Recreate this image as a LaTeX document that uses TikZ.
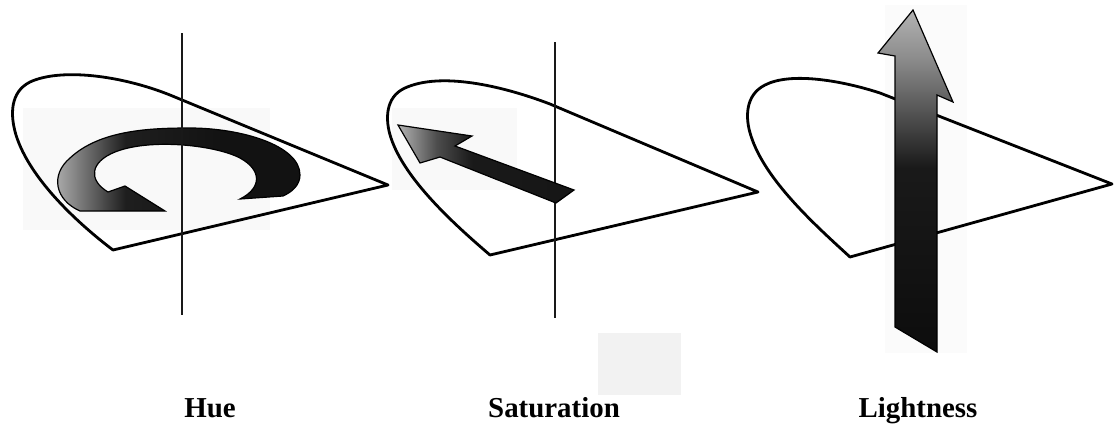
\documentclass[tikz,border=0pt]{standalone}
\usepackage{fontspec}
\setmainfont{Liberation Serif}
\pgfdeclarehorizontalshading{huesh}{100bp}{color(0bp)=(black!28); color(25bp)=(black!28); color(40bp)=(black!88); color(60bp)=(black!93); color(100bp)=(black!93)}
\pgfdeclarehorizontalshading{satsh}{100bp}{color(0bp)=(black!30); color(25bp)=(black!30); color(36bp)=(black!70); color(46bp)=(black!90); color(100bp)=(black!93)}
\pgfdeclareverticalshading{lightsh}{100bp}{color(0bp)=(black!95); color(25bp)=(black!95); color(52bp)=(black!90); color(68bp)=(black!45); color(75bp)=(black!30); color(100bp)=(black!30)}
\begin{document}
\begin{tikzpicture}[x=1bp,y=-1bp,
  outline/.style={line width=2.8bp,line join=round,draw=black},
  axisline/.style={line width=2bp,draw=black!90},
  faint/.style={fill=black!2.5,draw=none},
  arrowbody/.style={draw=black,line width=1.2bp,line join=miter},
  lbl/.style={font=\bfseries\fontsize{29}{34}\selectfont,anchor=base,inner sep=0pt}]
\useasboundingbox (0,0) rectangle (1114,426);
% faint backgrounds
\fill[faint] (23,108) rectangle (270,230);
\fill[faint] (392,108) rectangle (517,190);
\fill[black!1.5] (885,5) rectangle (967,353);
\fill[black!5] (598,333) rectangle (681,395);
% ---------- Hue ----------
\draw[outline] (113,250) -- (388,185) -- (170,95)
  .. controls (120,75) and (60,68) .. (30,82)
  .. controls (10,92) and (10,115) .. (16,135)
  .. controls (30,180) and (80,225) .. (113,250) -- cycle;
\path[arrowbody,shading=huesh]
  (240,199) .. controls (262,188) and (262,170) .. (240,158)
  .. controls (215,145) and (150,138) .. (115,152)
  .. controls (90,162) and (88,180) .. (108,192)
  -- (125,186) -- (165,211) -- (80,211)
  .. controls (55,200) and (50,175) .. (70,158)
  .. controls (100,130) and (150,128) .. (190,128)
  .. controls (240,128) and (300,145) .. (300,175)
  .. controls (300,185) and (292,192) .. (283,196) -- cycle;
\coordinate (h1) at (182,33);
\coordinate (h2) at (182,315);
\draw[axisline] (h1) -- (h2);
\node[lbl] (hue) at (210,417) {Hue};
% ---------- Saturation ----------
\draw[outline] (490,255) -- (758,192) -- (550,104)
  .. controls (500,85) and (440,72) .. (405,88)
  .. controls (385,97) and (385,120) .. (391,138)
  .. controls (405,180) and (455,225) .. (490,255) -- cycle;
\coordinate (s1) at (555,42);
\coordinate (s2) at (555,318);
\draw[axisline] (s1) -- (s2);
\path[arrowbody,shading=satsh]
  (398,125) -- (472,136) -- (455,146) -- (574,190) -- (556,203)
  -- (440,157) -- (420,163) -- cycle;
\node[lbl] (sat) at (554,417) {Saturation};
% ---------- Lightness ----------
\draw[outline] (850,257) -- (1112,184) -- (880,93)
  .. controls (840,80) and (790,72) .. (765,85)
  .. controls (745,95) and (745,118) .. (751,136)
  .. controls (765,180) and (815,225) .. (850,257) -- cycle;
\path[arrowbody,shading=lightsh]
  (913,10) -- (953,102) -- (937,95) -- (937,352) -- (895,327)
  -- (895,56) -- (878,53) -- cycle;
\node[lbl] (light) at (918,417) {Lightness};
\end{tikzpicture}
\end{document}
